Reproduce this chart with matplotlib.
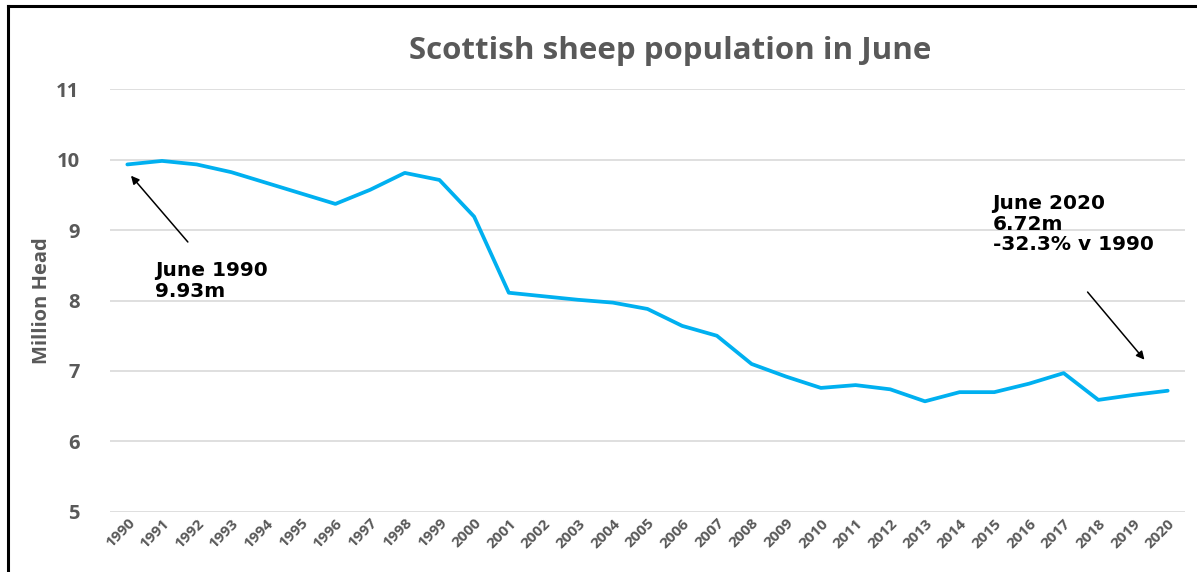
import matplotlib.pyplot as plt
from matplotlib.lines import Line2D

# data
years = list(range(1990, 2021))
sheep = [9.93, 9.98, 9.93, 9.82, 9.67, 9.52, 9.37, 9.57, 9.81, 9.71,
         9.19, 8.11, 8.06, 8.01, 7.97, 7.88, 7.64, 7.50, 7.10, 6.92,
         6.76, 6.80, 6.74, 6.57, 6.70, 6.70, 6.82, 6.97, 6.59, 6.66,
         6.72]
y_ticks = [5, 6, 7, 8, 9, 10, 11]

grey = '#595959'
blue = '#00b0f0'

fig = plt.figure(figsize=(11.97, 5.72), dpi=100)
ax = fig.add_axes([0.0919, 0.1049, 0.8981, 0.7395])

x = list(range(len(years)))
ax.plot(x, sheep, color=blue, linewidth=2.7, solid_capstyle='round')

ax.set_xlim(-0.5, len(years) - 0.5)
ax.set_ylim(5, 11)
ax.set_yticks(y_ticks)
ax.set_yticklabels([str(v) for v in y_ticks], fontsize=14.5, fontweight='bold',
                   color=grey, family='Open Sans')
ax.set_xticks(x)
ax.set_xticklabels([str(y) for y in years], rotation=45, ha='right',
                   rotation_mode='anchor', fontsize=11, fontweight='bold',
                   color=grey, family='Open Sans')
ax.tick_params(axis='both', length=0)
ax.tick_params(axis='y', pad=22)
ax.tick_params(axis='x', pad=3)
ax.grid(axis='y', color='#d9d9d9', linewidth=1.2)
ax.set_axisbelow(True)
for s in ax.spines.values():
    s.set_visible(False)

ax.set_ylabel('Million Head', fontsize=14.5, fontweight='bold', color=grey,
              family='Open Sans', labelpad=3)

fig.text(0.56, 0.91, 'Scottish sheep population in June', ha='center',
         va='center', fontsize=22.5, fontweight='bold', color=grey,
         family='Open Sans')

# annotations
ax.annotate('', xy=(0.105, 9.77), xytext=(1.745, 8.83),
            arrowprops=dict(arrowstyle='-|>', color='black', lw=1.1,
                            mutation_scale=12, shrinkA=0, shrinkB=0))
ax.text(0.8, 8.56, 'June 1990\n9.93m', fontsize=14.5, fontweight='bold',
        va='top', ha='left', family='DejaVu Sans', linespacing=1.1)

ax.annotate('', xy=(29.33, 7.16), xytext=(27.69, 8.12),
            arrowprops=dict(arrowstyle='-|>', color='black', lw=1.1,
                            mutation_scale=12, shrinkA=0, shrinkB=0))
ax.text(24.95, 9.51, 'June 2020\n6.72m\n-32.3% v 1990', fontsize=14.5,
        fontweight='bold', va='top', ha='left', family='DejaVu Sans',
        linespacing=1.1)

# frame around chart (left and top edges)
fig.add_artist(Line2D([0.0067, 0.0067], [0, 0.9895], color='black', lw=2.2))
fig.add_artist(Line2D([0.0067, 1.0], [0.9895, 0.9895], color='black', lw=2.2))

fig.savefig('out.png', dpi=100)
